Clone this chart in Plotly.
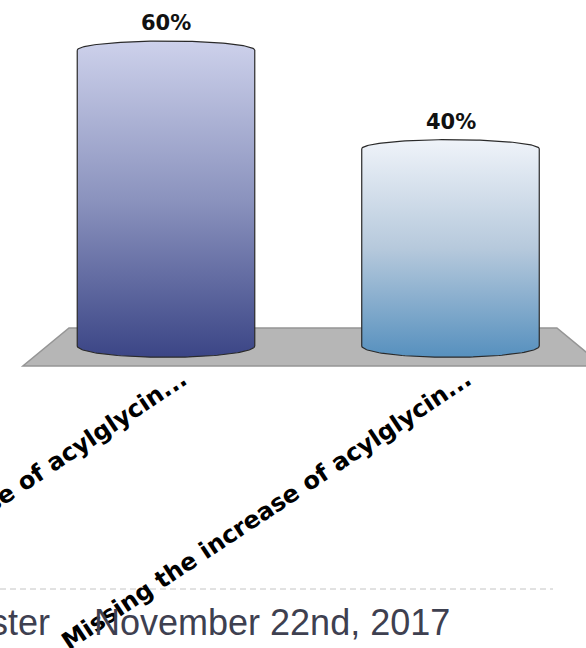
import numpy as np
import plotly.graph_objects as go

# ---- data ----
categories = ["Detecting the increase of acylglycin...", "Missing the increase of acylglycin..."]
values = [60, 40]
value_labels = ["60%", "40%"]
footer_left = "ster"
footer_date = "November 22nd, 2017"

# ---- styles ----
top_colors = ["#cdd1eb", "#eff3f9"]
mid_colors = ["#8b93be", "#b6c9dc"]
bottom_colors = ["#3b4586", "#5690be"]

W, H = 586, 648
X_RANGE = [-0.5835, 1.4763]
Y_RANGE = [-61.26, 70.18]
HALF_W = 0.312
TOP_RY = 1.85
BOT_RY = 2.3

fig = go.Figure()

# floor (3D base plane)
fl_top, fl_bot = 3.65, -4.06
fig.add_shape(
    type="path",
    path=f"M {-0.341},{fl_top} L {1.374},{fl_top} L {1.536},{fl_bot} L {-0.503},{fl_bot} Z",
    xref="x", yref="y", fillcolor="#b6b6b6",
    line=dict(color="#959595", width=1.5), layer="below",
)

t = np.linspace(0, np.pi, 80)
for i, v in enumerate(values):
    top_x = i - HALF_W * np.cos(t)
    top_y = v + TOP_RY * np.sin(t)
    bot_x = i + HALF_W * np.cos(t)
    bot_y = -BOT_RY * np.sin(t)
    xs = np.concatenate([top_x, bot_x, [top_x[0]]])
    ys = np.concatenate([top_y, bot_y, [top_y[0]]])
    fig.add_trace(go.Scatter(
        x=xs, y=ys, mode="lines", fill="toself",
        fillgradient=dict(type="vertical",
                          colorscale=[[0, bottom_colors[i]], [0.5, mid_colors[i]], [1, top_colors[i]]]),
        line=dict(color="#2a2a2a", width=1.2),
        hoverinfo="skip", showlegend=False,
    ))
    fig.add_annotation(
        x=i, y=v, xref="x", yref="y", text=value_labels[i], showarrow=False,
        xanchor="center", yanchor="bottom", yshift=13,
        font=dict(family="DejaVu Sans", size=21, color="#111111", weight="bold"),
    )

# dashed separator
fig.add_shape(type="line", xref="paper", yref="paper",
              x0=0, x1=553 / W, y0=1 - 589 / H, y1=1 - 589 / H,
              line=dict(color="#c4c4c4", width=1, dash="6px,4px"), layer="below")

# footer
fig.add_annotation(x=52 / W, y=1 - 622 / H, xref="paper", yref="paper", text=footer_left,
                   showarrow=False, xanchor="right", yanchor="middle",
                   font=dict(family="Liberation Sans", size=36, color="#3e4050"))
fig.add_annotation(x=92 / W, y=1 - 622 / H, xref="paper", yref="paper", text=footer_date,
                   showarrow=False, xanchor="left", yanchor="middle",
                   font=dict(family="Liberation Sans", size=36, color="#3e4050"))

fig.update_layout(
    width=W, height=H, margin=dict(l=0, r=0, t=0, b=0),
    paper_bgcolor="white", plot_bgcolor="white", showlegend=False,
    xaxis=dict(range=X_RANGE, tickvals=list(range(len(categories))), ticktext=categories,
               tickangle=-33.5, showgrid=False, zeroline=False, showline=False, ticks="",
               anchor="free", position=1 - 360 / H, automargin=False,
               ticklabelshift=16, ticklabelstandoff=0, ticklabeloverflow="allow",
               tickfont=dict(family="DejaVu Sans", size=24, color="#000000", weight="bold")),
    yaxis=dict(range=Y_RANGE, visible=False, showgrid=False, zeroline=False),
)

fig.write_html("out.html")
